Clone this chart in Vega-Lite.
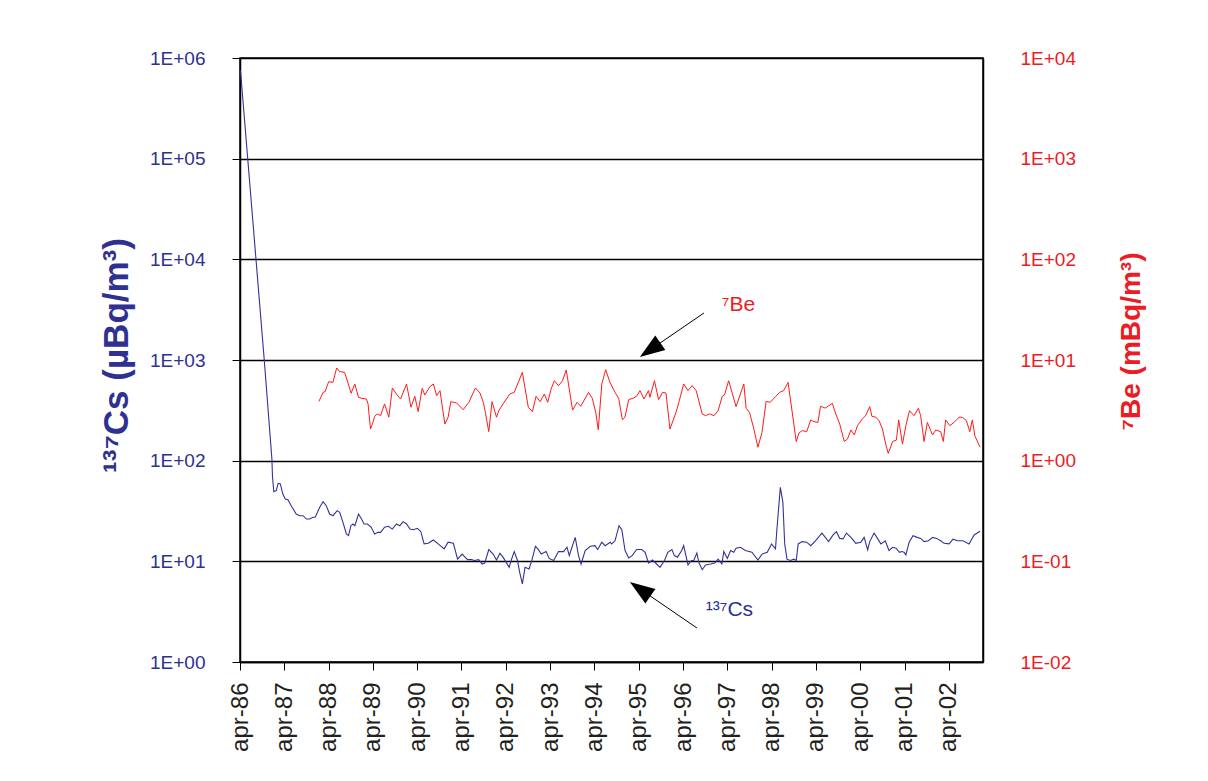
{
  "$schema": "https://vega.github.io/schema/vega-lite/v6.json",
  "width": 743,
  "height": 604,
  "autosize": {"type": "none"},
  "padding": {"left": 240, "top": 58, "right": 225, "bottom": 119},
  "background": "white",
  "config": {
    "font": "Liberation Sans",
    "view": {"stroke": "black", "strokeWidth": 1.5}
  },
  "datasets": {
    "cs": [
      {"date":"1986-04-05","cs":750000},{"date":"1986-10-18","cs":1000},{"date":"1986-12-20","cs":104},{"date":"1986-12-25","cs":68.4},
      {"date":"1987-01-05","cs":49.2},{"date":"1987-01-25","cs":50.4},{"date":"1987-02-09","cs":59.5},{"date":"1987-02-28","cs":58.7},
      {"date":"1987-03-20","cs":46.6},{"date":"1987-04-09","cs":41.6},{"date":"1987-05-01","cs":41.0},{"date":"1987-05-28","cs":35.7},
      {"date":"1987-07-08","cs":29.5},{"date":"1987-08-06","cs":28.4},{"date":"1987-09-03","cs":28.4},{"date":"1987-10-01","cs":26.3},
      {"date":"1987-10-28","cs":26.3},{"date":"1987-11-25","cs":27.4},{"date":"1987-12-12","cs":27.4},{"date":"1988-01-18","cs":34.4},
      {"date":"1988-02-15","cs":39.1},{"date":"1988-03-12","cs":35.7},{"date":"1988-04-09","cs":29.5},{"date":"1988-05-06","cs":28.4},
      {"date":"1988-06-10","cs":31.9},{"date":"1988-07-01","cs":30.7},{"date":"1988-07-28","cs":24.4},{"date":"1988-08-25","cs":18.7},
      {"date":"1988-09-12","cs":18.0},{"date":"1988-10-01","cs":22.6},{"date":"1988-10-18","cs":23.5},{"date":"1988-11-03","cs":22.6},
      {"date":"1988-12-03","cs":29.5},{"date":"1988-12-28","cs":26.3},{"date":"1989-01-18","cs":23.5},{"date":"1989-02-15","cs":23.5},
      {"date":"1989-03-18","cs":21.8},{"date":"1989-04-15","cs":18.7},{"date":"1989-05-12","cs":19.4},{"date":"1989-06-03","cs":19.4},
      {"date":"1989-07-06","cs":21.8},{"date":"1989-08-06","cs":22.3},{"date":"1989-09-08","cs":20.9},{"date":"1989-10-12","cs":23.5},
      {"date":"1989-11-09","cs":22.6},{"date":"1989-12-06","cs":24.8},{"date":"1990-01-03","cs":23.5},{"date":"1990-02-01","cs":20.9},
      {"date":"1990-02-28","cs":20.6},{"date":"1990-04-03","cs":21.3},{"date":"1990-05-01","cs":19.7},{"date":"1990-05-28","cs":14.9},
      {"date":"1990-07-01","cs":15.1},{"date":"1990-08-12","cs":16.3},{"date":"1990-09-21","cs":14.9},{"date":"1990-11-09","cs":13.3},
      {"date":"1990-12-12","cs":15.5},{"date":"1991-01-24","cs":15.1},{"date":"1991-02-28","cs":10.5},{"date":"1991-04-06","cs":11.8},
      {"date":"1991-05-21","cs":10.4},{"date":"1991-06-23","cs":10.4},{"date":"1991-07-18","cs":10.2},{"date":"1991-08-21","cs":10.4},
      {"date":"1991-09-18","cs":9.41},{"date":"1991-10-10","cs":9.62},{"date":"1991-11-12","cs":13.1},{"date":"1991-12-18","cs":11.8},
      {"date":"1992-01-15","cs":10.3},{"date":"1992-02-12","cs":12.0},{"date":"1992-03-09","cs":11.0},{"date":"1992-04-28","cs":8.72},
      {"date":"1992-05-18","cs":10.5},{"date":"1992-06-09","cs":12.5},{"date":"1992-07-06","cs":10.2},{"date":"1992-07-24","cs":7.78},
      {"date":"1992-08-15","cs":5.96},{"date":"1992-09-06","cs":8.72},{"date":"1992-10-09","cs":8.39},{"date":"1992-11-01","cs":10.2},
      {"date":"1992-12-01","cs":14.1},{"date":"1992-12-21","cs":13.3},{"date":"1993-01-18","cs":11.8},{"date":"1993-02-27","cs":12.5},
      {"date":"1993-03-24","cs":10.7},{"date":"1993-04-30","cs":10.2},{"date":"1993-06-09","cs":12.5},{"date":"1993-07-21","cs":12.5},
      {"date":"1993-08-18","cs":13.8},{"date":"1993-09-06","cs":11.4},{"date":"1993-09-28","cs":13.8},{"date":"1993-10-25","cs":17.3},
      {"date":"1993-11-21","cs":11.4},{"date":"1993-12-12","cs":9.41},{"date":"1994-01-15","cs":12.8},{"date":"1994-02-27","cs":14.1},
      {"date":"1994-04-06","cs":14.3},{"date":"1994-04-28","cs":13.1},{"date":"1994-06-01","cs":15.5},{"date":"1994-06-28","cs":14.3},
      {"date":"1994-08-09","cs":15.5},{"date":"1994-08-21","cs":14.9},{"date":"1994-09-18","cs":16.0},{"date":"1994-10-21","cs":22.6},
      {"date":"1994-11-13","cs":20.6},{"date":"1994-12-10","cs":12.8},{"date":"1995-01-09","cs":10.8},{"date":"1995-02-06","cs":11.4},
      {"date":"1995-03-15","cs":13.1},{"date":"1995-04-27","cs":13.1},{"date":"1995-05-24","cs":12.3},{"date":"1995-06-21","cs":9.62},
      {"date":"1995-07-24","cs":10.3},{"date":"1995-08-27","cs":9.41},{"date":"1995-09-24","cs":8.72},{"date":"1995-10-31","cs":10.2},
      {"date":"1995-11-27","cs":12.3},{"date":"1995-12-31","cs":13.1},{"date":"1996-01-21","cs":11.4},{"date":"1996-02-15","cs":11.0},
      {"date":"1996-03-21","cs":12.8},{"date":"1996-04-06","cs":14.3},{"date":"1996-05-12","cs":9.2},{"date":"1996-06-09","cs":10.2},
      {"date":"1996-06-28","cs":10.2},{"date":"1996-07-24","cs":12.1},{"date":"1996-08-09","cs":9.77},{"date":"1996-09-06","cs":8.26},
      {"date":"1996-10-03","cs":9.2},{"date":"1996-11-15","cs":9.41},{"date":"1996-12-18","cs":9.62},{"date":"1997-01-15","cs":10.5},
      {"date":"1997-02-15","cs":9.41},{"date":"1997-03-03","cs":12.5},{"date":"1997-04-01","cs":10.7},{"date":"1997-04-28","cs":12.8},
      {"date":"1997-05-24","cs":12.3},{"date":"1997-06-12","cs":13.5},{"date":"1997-07-18","cs":13.8},{"date":"1997-08-28","cs":12.8},
      {"date":"1997-10-21","cs":12.3},{"date":"1997-12-09","cs":10.3},{"date":"1998-01-12","cs":11.8},{"date":"1998-02-24","cs":12.3},
      {"date":"1998-04-01","cs":14.9},{"date":"1998-05-03","cs":13.3},{"date":"1998-05-15","cs":20.9},{"date":"1998-06-12","cs":54.3},
      {"date":"1998-07-03","cs":38.5},{"date":"1998-07-18","cs":14.9},{"date":"1998-08-06","cs":10.5},{"date":"1998-09-03","cs":10.2},
      {"date":"1998-10-01","cs":10.5},{"date":"1998-10-21","cs":10.2},{"date":"1998-11-06","cs":14.9},{"date":"1998-12-09","cs":15.7},
      {"date":"1999-01-15","cs":15.5},{"date":"1999-02-18","cs":14.3},{"date":"1999-03-28","cs":16.0},{"date":"1999-05-21","cs":19.1},
      {"date":"1999-06-18","cs":17.3},{"date":"1999-07-15","cs":15.7},{"date":"1999-08-21","cs":18.3},{"date":"1999-09-18","cs":19.7},
      {"date":"1999-10-15","cs":16.9},{"date":"1999-11-12","cs":16.7},{"date":"1999-12-09","cs":19.1},{"date":"2000-01-15","cs":17.3},
      {"date":"2000-02-24","cs":15.1},{"date":"2000-04-06","cs":15.5},{"date":"2000-05-03","cs":17.3},{"date":"2000-06-01","cs":13.0},
      {"date":"2000-06-18","cs":15.7},{"date":"2000-07-24","cs":19.1},{"date":"2000-08-21","cs":16.9},{"date":"2000-09-18","cs":14.9},
      {"date":"2000-10-24","cs":16.0},{"date":"2000-11-24","cs":12.8},{"date":"2000-12-24","cs":13.8},{"date":"2001-01-21","cs":13.5},
      {"date":"2001-02-18","cs":12.3},{"date":"2001-03-09","cs":12.5},{"date":"2001-03-28","cs":12.3},{"date":"2001-04-12","cs":11.6},
      {"date":"2001-05-09","cs":15.5},{"date":"2001-06-10","cs":18.0},{"date":"2001-07-15","cs":17.3},{"date":"2001-08-12","cs":16.9},
      {"date":"2001-09-09","cs":15.7},{"date":"2001-10-15","cs":16.0},{"date":"2001-11-18","cs":17.3},{"date":"2001-12-21","cs":16.9},
      {"date":"2002-01-24","cs":16.0},{"date":"2002-02-21","cs":15.1},{"date":"2002-04-03","cs":14.9},{"date":"2002-05-06","cs":16.6},
      {"date":"2002-06-12","cs":16.0},{"date":"2002-07-27","cs":16.0},{"date":"2002-09-15","cs":14.9},{"date":"2002-10-27","cs":18.3},
      {"date":"2002-12-15","cs":19.9}
    ],
    "be": [
      {"date":"1988-01-12","be":3.88},{"date":"1988-02-15","be":4.77},{"date":"1988-03-03","be":4.85},{"date":"1988-04-01","be":6.09},
      {"date":"1988-05-06","be":6.0},{"date":"1988-06-06","be":8.33},{"date":"1988-07-01","be":7.66},{"date":"1988-08-10","be":7.54},
      {"date":"1988-09-06","be":6.0},{"date":"1988-10-03","be":4.67},{"date":"1988-11-03","be":5.78},{"date":"1988-12-03","be":4.26},
      {"date":"1989-01-01","be":4.16},{"date":"1989-02-06","be":4.1},{"date":"1989-02-20","be":3.66},{"date":"1989-03-12","be":2.06},
      {"date":"1989-04-01","be":2.4},{"date":"1989-04-15","be":2.76},{"date":"1989-05-06","be":2.91},{"date":"1989-06-03","be":2.8},
      {"date":"1989-07-06","be":3.66},{"date":"1989-08-10","be":2.7},{"date":"1989-09-08","be":5.27},{"date":"1989-10-12","be":4.59},
      {"date":"1989-11-15","be":4.1},{"date":"1990-01-03","be":5.78},{"date":"1990-02-09","be":3.39},{"date":"1990-03-12","be":4.36},
      {"date":"1990-04-09","be":3.07},{"date":"1990-05-12","be":5.23},{"date":"1990-06-03","be":4.49},{"date":"1990-07-15","be":5.43},
      {"date":"1990-08-12","be":5.78},{"date":"1990-09-09","be":4.42},{"date":"1990-10-06","be":4.96},{"date":"1990-11-15","be":2.31},
      {"date":"1990-12-12","be":2.7},{"date":"1991-01-03","be":3.85},{"date":"1991-02-20","be":3.74},{"date":"1991-04-15","be":3.21},
      {"date":"1991-06-01","be":3.8},{"date":"1991-07-25","be":5.27},{"date":"1991-09-01","be":4.7},{"date":"1991-09-28","be":3.8},
      {"date":"1991-10-15","be":3.02},{"date":"1991-11-12","be":1.94},{"date":"1991-12-09","be":3.85},{"date":"1992-01-15","be":2.7},
      {"date":"1992-02-03","be":3.14},{"date":"1992-03-09","be":3.66},{"date":"1992-05-03","be":4.59},{"date":"1992-06-09","be":4.77},
      {"date":"1992-08-15","be":7.54},{"date":"1992-10-03","be":3.39},{"date":"1992-11-06","be":3.07},{"date":"1992-12-06","be":4.36},
      {"date":"1993-01-09","be":3.85},{"date":"1993-02-12","be":4.59},{"date":"1993-03-12","be":3.8},{"date":"1993-04-09","be":5.15},
      {"date":"1993-05-06","be":6.23},{"date":"1993-06-09","be":5.56},{"date":"1993-07-12","be":6.23},{"date":"1993-08-12","be":7.96},
      {"date":"1993-10-03","be":3.18},{"date":"1993-11-09","be":3.8},{"date":"1993-12-09","be":3.47},{"date":"1994-02-12","be":4.77},
      {"date":"1994-03-15","be":4.16},{"date":"1994-04-12","be":3.02},{"date":"1994-05-03","be":2.03},{"date":"1994-06-01","be":5.78},
      {"date":"1994-07-03","be":8.02},{"date":"1994-08-09","be":5.91},{"date":"1994-09-18","be":4.77},{"date":"1994-10-18","be":4.16},
      {"date":"1994-11-18","be":2.55},{"date":"1994-12-09","be":2.7},{"date":"1995-01-09","be":4.04},{"date":"1995-02-18","be":4.19},
      {"date":"1995-03-15","be":4.36},{"date":"1995-04-12","be":4.96},{"date":"1995-05-15","be":4.1},{"date":"1995-06-21","be":4.96},
      {"date":"1995-07-03","be":4.26},{"date":"1995-08-09","be":6.23},{"date":"1995-09-12","be":4.04},{"date":"1995-10-15","be":4.77},
      {"date":"1995-11-12","be":4.7},{"date":"1995-12-15","be":2.06},{"date":"1996-02-03","be":3.02},{"date":"1996-03-01","be":3.94},
      {"date":"1996-04-06","be":5.78},{"date":"1996-05-12","be":4.96},{"date":"1996-06-15","be":5.56},{"date":"1996-07-18","be":4.96},
      {"date":"1996-09-06","be":2.91},{"date":"1996-10-03","be":2.8},{"date":"1996-11-06","be":2.91},{"date":"1996-12-12","be":2.8},
      {"date":"1997-01-15","be":3.14},{"date":"1997-02-18","be":4.36},{"date":"1997-03-09","be":4.49},{"date":"1997-04-12","be":6.23},
      {"date":"1997-06-12","be":3.44},{"date":"1997-08-15","be":5.78},{"date":"1997-09-03","be":3.31},{"date":"1997-10-01","be":3.02},
      {"date":"1997-11-06","be":2.06},{"date":"1997-12-09","be":1.36},{"date":"1998-01-12","be":1.91},{"date":"1998-02-15","be":3.88},
      {"date":"1998-03-21","be":3.8},{"date":"1998-05-03","be":4.32},{"date":"1998-06-06","be":4.77},{"date":"1998-07-09","be":4.96},
      {"date":"1998-08-15","be":6.0},{"date":"1998-10-21","be":1.55},{"date":"1998-11-12","be":1.88},{"date":"1998-12-09","be":1.99},
      {"date":"1999-01-15","be":1.94},{"date":"1999-02-18","be":2.54},{"date":"1999-03-15","be":2.44},{"date":"1999-04-18","be":2.4},
      {"date":"1999-05-09","be":3.47},{"date":"1999-06-18","be":3.33},{"date":"1999-07-18","be":3.52},{"date":"1999-08-15","be":3.71},
      {"date":"1999-09-12","be":2.91},{"date":"1999-10-15","be":2.31},{"date":"1999-11-21","be":1.55},{"date":"1999-12-18","be":1.64},
      {"date":"2000-01-15","be":2.02},{"date":"2000-02-12","be":1.8},{"date":"2000-03-09","be":2.23},{"date":"2000-04-18","be":2.6},
      {"date":"2000-05-15","be":2.8},{"date":"2000-06-18","be":3.44},{"date":"2000-07-06","be":2.76},{"date":"2000-08-06","be":2.7},
      {"date":"2000-09-03","be":2.5},{"date":"2000-10-01","be":2.06},{"date":"2000-10-28","be":1.46},{"date":"2000-11-18","be":1.18},
      {"date":"2000-12-24","be":1.55},{"date":"2001-01-24","be":1.6},{"date":"2001-02-12","be":2.54},{"date":"2001-03-15","be":1.46},
      {"date":"2001-04-12","be":2.23},{"date":"2001-05-12","be":3.14},{"date":"2001-06-18","be":2.8},{"date":"2001-07-24","be":3.31},
      {"date":"2001-08-12","be":2.8},{"date":"2001-09-09","be":1.55},{"date":"2001-10-06","be":2.4},{"date":"2001-11-18","be":1.8},
      {"date":"2001-12-15","be":2.02},{"date":"2002-01-24","be":1.94},{"date":"2002-02-15","be":1.55},{"date":"2002-03-06","be":2.54},
      {"date":"2002-04-09","be":2.23},{"date":"2002-05-15","be":2.4},{"date":"2002-06-24","be":2.7},{"date":"2002-07-21","be":2.7},
      {"date":"2002-08-24","be":2.5},{"date":"2002-09-21","be":1.94},{"date":"2002-10-12","be":2.54},{"date":"2002-11-03","be":1.75},
      {"date":"2002-12-15","be":1.36}
    ],
    "arrows": [
      {"date":"1996-09-20","cs":2930,"date2":"1995-07-04","cs2":1259},
      {"date":"1996-07-24","cs":2.18,"date2":"1995-04-13","cs2":5.3}
    ],
    "beHead": [{"date":"1995-07-04","cs":1259}],
    "csHead": [{"date":"1995-04-13","cs":5.3}],
    "beLabel": [{"date":"1997-02-15","cs":3517,"label":"⁷Be"}],
    "csLabel": [{"date":"1996-10-06","cs":3.29,"label":"¹³⁷Cs"}]
  },
  "layer": [
    {
      "layer": [
        {
          "data": {"name": "cs"},
          "mark": {"type": "line", "color": "#333399", "strokeWidth": 1.1},
          "encoding": {
            "x": {
              "field": "date", "type": "temporal",
              "scale": {"type": "utc", "domain": [{"year":1986,"month":4,"date":1,"utc":true},{"year":2003,"month":1,"date":8,"utc":true}]},
              "axis": {
                "title": null,
                "values": [
                  {"year":1986,"month":4,"date":1,"utc":true},{"year":1987,"month":4,"date":1,"utc":true},
                  {"year":1988,"month":4,"date":1,"utc":true},{"year":1989,"month":4,"date":1,"utc":true},
                  {"year":1990,"month":4,"date":1,"utc":true},{"year":1991,"month":4,"date":1,"utc":true},
                  {"year":1992,"month":4,"date":1,"utc":true},{"year":1993,"month":4,"date":1,"utc":true},
                  {"year":1994,"month":4,"date":1,"utc":true},{"year":1995,"month":4,"date":1,"utc":true},
                  {"year":1996,"month":4,"date":1,"utc":true},{"year":1997,"month":4,"date":1,"utc":true},
                  {"year":1998,"month":4,"date":1,"utc":true},{"year":1999,"month":4,"date":1,"utc":true},
                  {"year":2000,"month":4,"date":1,"utc":true},{"year":2001,"month":4,"date":1,"utc":true},
                  {"year":2002,"month":4,"date":1,"utc":true}
                ],
                "labelExpr": "'apr-' + utcFormat(datum.value, '%y')",
                "labelAngle": -90,
                "labelFontSize": 24,
                "labelColor": "#231F20",
                "labelFont": "Liberation Sans",
                "labelPadding": 12,
                "labelOverlap": false,
                "labelFlush": false,
                "tickSize": 8,
                "tickColor": "black",
                "domainColor": "black",
                "domainWidth": 1.5,
                "grid": false
              }
            },
            "y": {
              "field": "cs", "type": "quantitative",
              "scale": {"type": "log", "domain": [1, 1000000]},
              "axis": {
                "title": "¹³⁷Cs (µBq/m³)",
                "titleFontSize": 35,
                "titleFontWeight": "bold",
                "titleColor": "#2E3192",
                "titleFont": "Liberation Sans",
                "titleAngle": 270,
                "titleX": -113,
                "titleY": 297,
                "titleAlign": "center",
                "titleBaseline": "alphabetic",
                "values": [1, 10, 100, 1000, 10000, 100000, 1000000],
                "labelExpr": "'1E+0' + format(round(log(datum.value)/LN10), 'd')",
                "labelFontSize": 19,
                "labelColor": "#2E3192",
                "labelFont": "Liberation Sans",
                "labelPadding": 27,
                "labelFlush": false,
                "labelOverlap": false,
                "tickSize": 8,
                "tickColor": "black",
                "domainColor": "black",
                "domainWidth": 1.5,
                "grid": true,
                "gridColor": "black",
                "gridWidth": 1.5,
                "gridOpacity": 1
              }
            }
          }
        },
        {
          "data": {"name": "arrows"},
          "mark": {"type": "rule", "color": "black", "strokeWidth": 1},
          "encoding": {
            "x": {"field": "date", "type": "temporal"},
            "x2": {"field": "date2"},
            "y": {"field": "cs", "type": "quantitative"},
            "y2": {"field": "cs2"}
          }
        },
        {
          "data": {"name": "beHead"},
          "mark": {"type": "point", "shape": "M0,-1L0.7,1L-0.7,1Z", "filled": true, "color": "black", "opacity": 1, "size": 625, "angle": 235},
          "encoding": {
            "x": {"field": "date", "type": "temporal"},
            "y": {"field": "cs", "type": "quantitative"}
          }
        },
        {
          "data": {"name": "csHead"},
          "mark": {"type": "point", "shape": "M0,-1L0.7,1L-0.7,1Z", "filled": true, "color": "black", "opacity": 1, "size": 625, "angle": 305},
          "encoding": {
            "x": {"field": "date", "type": "temporal"},
            "y": {"field": "cs", "type": "quantitative"}
          }
        },
        {
          "data": {"name": "beLabel"},
          "mark": {"type": "text", "color": "#ED1C24", "fontSize": 21, "font": "Liberation Sans", "align": "left", "baseline": "middle"},
          "encoding": {
            "x": {"field": "date", "type": "temporal"},
            "y": {"field": "cs", "type": "quantitative"},
            "text": {"field": "label"}
          }
        },
        {
          "data": {"name": "csLabel"},
          "mark": {"type": "text", "color": "#2E3192", "fontSize": 21, "font": "Liberation Sans", "align": "left", "baseline": "middle"},
          "encoding": {
            "x": {"field": "date", "type": "temporal"},
            "y": {"field": "cs", "type": "quantitative"},
            "text": {"field": "label"}
          }
        }
      ]
    },
    {
      "data": {"name": "be"},
      "mark": {"type": "line", "color": "#FF1A1A", "strokeWidth": 1},
      "encoding": {
        "x": {"field": "date", "type": "temporal"},
        "y": {
          "field": "be", "type": "quantitative",
          "scale": {"type": "log", "domain": [0.01, 10000]},
          "axis": {
            "orient": "right",
            "title": "⁷Be (mBq/m³)",
            "titleFontSize": 28,
            "titleFontWeight": "bold",
            "titleColor": "#ED1C24",
            "titleFont": "Liberation Sans",
            "titleAngle": 270,
            "titleX": 156,
            "titleY": 283,
            "titleAlign": "center",
            "titleBaseline": "alphabetic",
            "values": [0.01, 0.1, 1, 10, 100, 1000, 10000],
            "labelExpr": "(datum.value < 1 ? '1E-0' : '1E+0') + format(abs(round(log(datum.value)/LN10)), 'd')",
            "labelFontSize": 19,
            "labelColor": "#ED1C24",
            "labelFont": "Liberation Sans",
            "labelPadding": 37,
            "labelFlush": false,
            "labelOverlap": false,
            "ticks": false,
            "tickSize": 0,
            "domainColor": "black",
            "domainWidth": 1.5,
            "grid": false
          }
        }
      }
    }
  ],
  "resolve": {"scale": {"y": "independent"}}
}
